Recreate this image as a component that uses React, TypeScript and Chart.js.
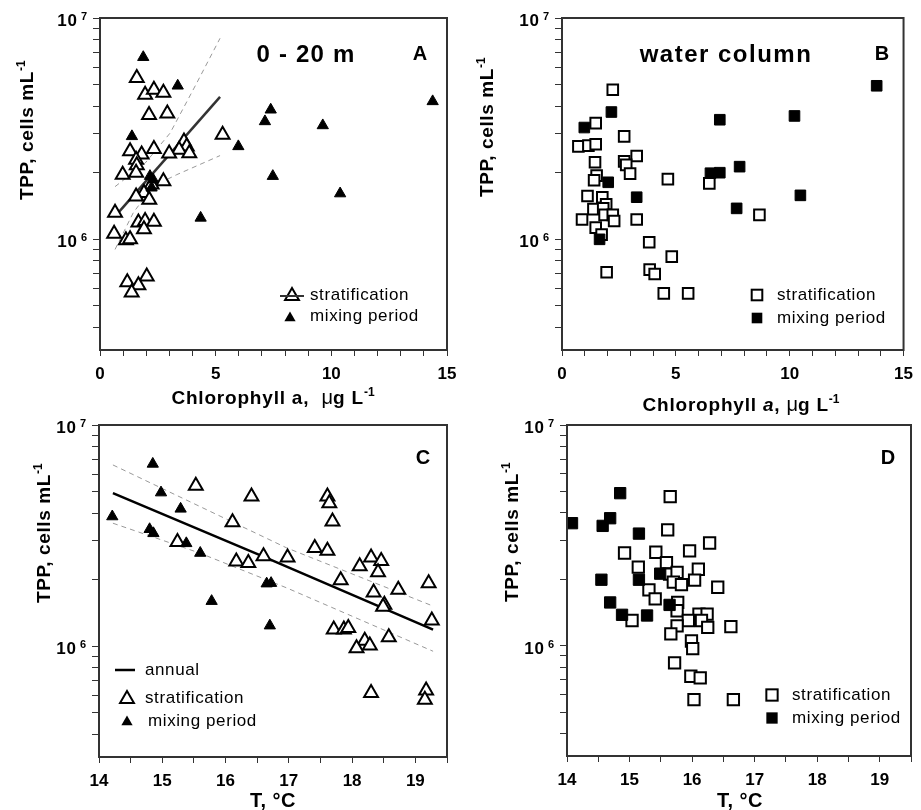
import React, { useEffect, useRef } from "react";
import { Chart, registerables } from "chart.js";
Chart.register(...registerables);

const FONT = '"Liberation Sans", Arial, Helvetica, sans-serif';
const W = 921;
const H = 810;

// ---------- Panel A: 0-20 m, TPP vs Chlorophyll a ----------
const aStratChl = [1.59, 1.95, 2.33, 2.74, 2.12, 2.91, 5.3, 3.63, 3.75, 3.42, 3.86, 2.99, 2.33, 1.3, 1.8, 1.56, 1.59, 0.98, 1.56, 2.74, 2.23, 1.9, 1.56, 2.13, 0.65, 1.66, 1.95, 2.33, 1.9, 0.61, 1.12, 1.3, 2.02, 1.18, 1.66, 1.37];
const aStratTpp = [5.35e6, 4.5e6, 4.74e6, 4.6e6, 3.65e6, 3.7e6, 2.97e6, 2.77e6, 2.63e6, 2.54e6, 2.45e6, 2.44e6, 2.56e6, 2.5e6, 2.42e6, 2.29e6, 2.16e6, 1.96e6, 2.0e6, 1.83e6, 1.77e6, 1.62e6, 1.56e6, 1.51e6, 1.32e6, 1.19e6, 1.21e6, 1.2e6, 1.11e6, 1.06e6, 0.99e6, 1.0e6, 6.8e5, 6.4e5, 6.2e5, 5.75e5];
const aMixChl = [1.87, 3.36, 1.38, 14.38, 7.38, 7.13, 9.63, 5.98, 7.47, 10.38, 4.35, 2.3, 2.23, 2.16];
const aMixTpp = [6.65e6, 4.94e6, 2.92e6, 4.2e6, 3.85e6, 3.41e6, 3.27e6, 2.63e6, 1.93e6, 1.61e6, 1.25e6, 1.86e6, 1.71e6, 1.93e6];
const aFitChl = [0.65, 5.19];
const aFitTpp = [1.27e6, 4.4e6];
const aUpperChl = [0.65, 1.95, 3.03, 4.18, 5.19];
const aUpperTpp = [1.73e6, 2.21e6, 3.02e6, 5.08e6, 8.1e6];
const aLowerChl = [0.65, 1.44, 2.3, 3.32, 5.19];
const aLowerTpp = [9.0e5, 1.32e6, 1.74e6, 1.96e6, 2.39e6];

// ---------- Panel B: water column, TPP vs Chlorophyll a ----------
const bStratChl = [2.23, 1.48, 2.73, 0.72, 1.16, 1.48, 3.28, 2.73, 2.82, 1.45, 2.99, 1.52, 1.41, 4.65, 6.47, 1.12, 1.77, 1.94, 1.38, 1.81, 1.87, 2.23, 0.88, 2.29, 3.28, 8.67, 1.48, 1.74, 3.83, 4.82, 1.96, 3.85, 4.07, 4.47, 5.54];
const bStratTpp = [4.74e6, 3.35e6, 2.92e6, 2.63e6, 2.65e6, 2.69e6, 2.38e6, 2.25e6, 2.17e6, 2.23e6, 1.98e6, 1.94e6, 1.85e6, 1.87e6, 1.79e6, 1.57e6, 1.55e6, 1.44e6, 1.37e6, 1.38e6, 1.29e6, 1.29e6, 1.23e6, 1.21e6, 1.23e6, 1.29e6, 1.13e6, 1.05e6, 9.7e5, 8.35e5, 7.1e5, 7.3e5, 6.97e5, 5.7e5, 5.7e5];
const bMixChl = [13.82, 2.17, 0.98, 6.93, 10.21, 7.8, 6.52, 6.93, 10.47, 7.67, 2.03, 3.28, 1.65];
const bMixTpp = [4.94e6, 3.76e6, 3.2e6, 3.47e6, 3.61e6, 2.13e6, 1.99e6, 2.0e6, 1.58e6, 1.38e6, 1.81e6, 1.55e6, 1.0e6];

// ---------- Panel C: 0-20 m, TPP vs temperature ----------
const cStratT = [15.53, 16.41, 17.61, 17.64, 16.11, 17.69, 15.24, 17.41, 17.61, 16.6, 16.98, 16.17, 16.36, 18.3, 18.46, 18.12, 18.41, 17.82, 19.21, 18.73, 18.34, 18.51, 18.49, 19.26, 17.71, 17.87, 17.94, 18.58, 18.2, 18.28, 18.07, 18.3, 19.17, 19.15];
const cStratTpp = [5.31e6, 4.75e6, 4.75e6, 4.43e6, 3.64e6, 3.66e6, 2.96e6, 2.78e6, 2.7e6, 2.55e6, 2.52e6, 2.42e6, 2.38e6, 2.52e6, 2.43e6, 2.3e6, 2.16e6, 1.99e6, 1.93e6, 1.8e6, 1.75e6, 1.54e6, 1.51e6, 1.31e6, 1.19e6, 1.19e6, 1.21e6, 1.1e6, 1.06e6, 1.01e6, 9.8e5, 6.15e5, 6.32e5, 5.74e5];
const cMixT = [14.85, 14.98, 15.29, 14.21, 14.8, 14.86, 15.38, 15.6, 16.65, 16.72, 15.78, 16.7];
const cMixTpp = [6.67e6, 4.95e6, 4.18e6, 3.86e6, 3.38e6, 3.24e6, 2.92e6, 2.64e6, 1.92e6, 1.93e6, 1.6e6, 1.24e6];
const cFitT = [14.22, 16.59, 19.28];
const cFitTpp = [4.92e6, 2.55e6, 1.19e6];
const cUpperT = [14.22, 15.59, 16.96, 19.28];
const cUpperTpp = [6.6e6, 4.29e6, 2.79e6, 1.52e6];
const cLowerT = [14.22, 15.59, 16.96, 19.28];
const cLowerTpp = [3.6e6, 2.64e6, 1.84e6, 9.5e5];

// ---------- Panel D: water column, TPP vs temperature ----------
const dStratT = [15.65, 15.61, 16.28, 14.92, 15.42, 15.96, 15.14, 15.59, 16.1, 15.64, 15.76, 16.04, 15.7, 15.83, 16.41, 15.31, 15.41, 15.77, 15.76, 16.11, 16.24, 15.04, 15.94, 16.15, 15.76, 16.25, 16.62, 15.66, 15.99, 16.01, 15.72, 15.98, 16.13, 16.03, 16.66];
const dStratTpp = [4.74e6, 3.35e6, 2.92e6, 2.63e6, 2.65e6, 2.69e6, 2.27e6, 2.38e6, 2.22e6, 2.11e6, 2.15e6, 1.98e6, 1.94e6, 1.89e6, 1.84e6, 1.79e6, 1.63e6, 1.57e6, 1.44e6, 1.39e6, 1.39e6, 1.3e6, 1.3e6, 1.3e6, 1.23e6, 1.21e6, 1.22e6, 1.13e6, 1.05e6, 9.7e5, 8.35e5, 7.27e5, 7.14e5, 5.7e5, 5.7e5];
const dMixT = [14.85, 14.08, 14.57, 14.69, 15.15, 15.49, 14.55, 15.15, 14.69, 15.64, 14.88, 15.28];
const dMixTpp = [4.91e6, 3.59e6, 3.49e6, 3.78e6, 3.22e6, 2.12e6, 1.99e6, 1.99e6, 1.57e6, 1.53e6, 1.38e6, 1.37e6];

// ---------- Axes ----------
const yTickValues = [4e5, 5e5, 6e5, 7e5, 8e5, 9e5, 1e6, 2e6, 3e6, 4e6, 5e6, 6e6, 7e6, 8e6, 9e6, 1e7];
const yLabelValues = [1e6, 1e7];
const yLabelExponents = ["6", "7"];
const yMin = 316228; // 10^5.5
const yMax = 1e7;

const bold = (s: number) => `bold ${s}px ${FONT}`;
const reg = (s: number) => `${s}px ${FONT}`;

type Part = { t: string; font: string; dy?: number; ls?: string };

function pts(xs: number[], ys: number[]) {
  return xs.map((x, i) => ({ x, y: ys[i] }));
}

function drawRich(ctx: CanvasRenderingContext2D, x: number, y: number, parts: Part[], align: "left" | "center" | "right") {
  ctx.textAlign = "left";
  ctx.textBaseline = "alphabetic";
  let total = 0;
  const widths = parts.map((p) => {
    ctx.font = p.font;
    (ctx as any).letterSpacing = p.ls ?? "0px";
    const w = ctx.measureText(p.t).width;
    total += w;
    return w;
  });
  let cx = align === "center" ? x - total / 2 : align === "right" ? x - total : x;
  parts.forEach((p, i) => {
    ctx.font = p.font;
    (ctx as any).letterSpacing = p.ls ?? "0px";
    ctx.fillText(p.t, cx, y + (p.dy ?? 0));
    cx += widths[i];
  });
  (ctx as any).letterSpacing = "0px";
}

function yTitle(ctx: CanvasRenderingContext2D, bx: number, by: number) {
  ctx.save();
  ctx.translate(bx, by);
  ctx.rotate(-Math.PI / 2);
  drawRich(ctx, 0, 0, [
    { t: "TPP, cells mL", font: bold(19), ls: "0.6px" },
    { t: "-1", font: bold(12), dy: -8 },
  ], "left");
  ctx.restore();
}

function triangle(ctx: CanvasRenderingContext2D, x: number, y: number, r: number, filled: boolean) {
  ctx.beginPath();
  let rad = 0;
  ctx.moveTo(x + Math.sin(rad) * r, y - Math.cos(rad) * r);
  rad += (2 * Math.PI) / 3;
  ctx.lineTo(x + Math.sin(rad) * r, y - Math.cos(rad) * r);
  rad += (2 * Math.PI) / 3;
  ctx.lineTo(x + Math.sin(rad) * r, y - Math.cos(rad) * r);
  ctx.closePath();
  if (filled) {
    ctx.fillStyle = "#000";
    ctx.fill();
  } else {
    ctx.fillStyle = "#fff";
    ctx.fill();
    ctx.lineWidth = 2;
    ctx.strokeStyle = "#000";
    ctx.stroke();
  }
}

function square(ctx: CanvasRenderingContext2D, x: number, y: number, r: number, filled: boolean) {
  const s = r * Math.SQRT1_2;
  if (filled) {
    ctx.fillStyle = "#000";
    ctx.fillRect(x - s, y - s, 2 * s, 2 * s);
  } else {
    ctx.lineWidth = 2;
    ctx.strokeStyle = "#000";
    ctx.strokeRect(x - s, y - s, 2 * s, 2 * s);
  }
}

function legendText(ctx: CanvasRenderingContext2D, t: string, x: number, y: number) {
  ctx.fillStyle = "#000";
  ctx.font = reg(17);
  (ctx as any).letterSpacing = "0.6px";
  ctx.textAlign = "left";
  ctx.textBaseline = "middle";
  ctx.fillText(t, x, y);
  (ctx as any).letterSpacing = "0px";
}

// ---------- dataset helpers ----------
const openMarker = (data: any[], style: string, r: number) => ({
  data, pointStyle: style, pointRadius: r, pointHoverRadius: r, pointBorderWidth: 2,
  pointBorderColor: "#000", pointBackgroundColor: "#fff", showLine: false,
});
const filledMarker = (data: any[], style: string, r: number) => ({
  data, pointStyle: style, pointRadius: r, pointHoverRadius: r, pointBorderWidth: 1,
  pointBorderColor: "#000", pointBackgroundColor: "#000", showLine: false,
});
const lineSet = (data: any[], color: string, width: number, dash: number[]) => ({
  data, showLine: true, pointRadius: 0, pointHoverRadius: 0, borderColor: color,
  borderWidth: width, borderDash: dash, fill: false, tension: 0,
});

interface PanelSpec {
  id: string;
  padding: { left: number; right: number; top: number; bottom: number };
  xMin: number;
  xMax: number;
  xStep: number;
  xLabel: (v: number) => string;
  datasets: any[];
  decorate: (ctx: CanvasRenderingContext2D) => void;
}

const chlLabel = (v: number) => (Math.abs(v % 5) < 1e-9 ? String(v) : "");
const tLabel = (v: number) => (Number.isInteger(v) ? String(v) : "");

const chlTitle = (italic: boolean): Part[] =>
  italic
    ? [
        { t: "Chlorophyll ", font: bold(19), ls: "0.8px" },
        { t: "a", font: `italic bold 19px ${FONT}`, ls: "0.8px" },
        { t: ", ", font: bold(19), ls: "0.8px" },
        { t: "\u03bc", font: reg(20) },
        { t: "g L", font: bold(19), ls: "0.8px" },
        { t: "-1", font: bold(12), dy: -8 },
      ]
    : [
        { t: "Chlorophyll a,  ", font: bold(19), ls: "0.8px" },
        { t: "\u03bc", font: reg(20) },
        { t: "g L", font: bold(19), ls: "0.8px" },
        { t: "-1", font: bold(12), dy: -8 },
      ];

const TRI_OPEN = 8;
const TRI_FILL = 6.5;

const specs: PanelSpec[] = [
  {
    id: "A",
    padding: { left: 55, right: W - 447, top: 18, bottom: H - 350 - 40 },
    xMin: 0, xMax: 15, xStep: 1, xLabel: chlLabel,
    datasets: [
      filledMarker(pts(aMixChl, aMixTpp), "triangle", TRI_FILL),
      openMarker(pts(aStratChl, aStratTpp), "triangle", TRI_OPEN),
      lineSet(pts(aFitChl, aFitTpp), "#333", 2.5, []),
      lineSet(pts(aUpperChl, aUpperTpp), "#999", 1, [5, 4]),
      lineSet(pts(aLowerChl, aLowerTpp), "#999", 1, [5, 4]),
    ],
    decorate: (ctx) => {
      ctx.fillStyle = "#000";
      yTitle(ctx, 33, 200);
      drawRich(ctx, 273, 404, chlTitle(false), "center");
      drawRich(ctx, 306, 62, [{ t: "0 - 20 m", font: bold(24), ls: "1.2px" }], "center");
      drawRich(ctx, 420, 60, [{ t: "A", font: bold(20) }], "center");
      triangle(ctx, 292, 296, TRI_OPEN, false);
      ctx.strokeStyle = "#333";
      ctx.lineWidth = 2;
      ctx.beginPath();
      ctx.moveTo(280, 296);
      ctx.lineTo(304, 296);
      ctx.stroke();
      legendText(ctx, "stratification", 310, 295);
      triangle(ctx, 290, 318, TRI_FILL, true);
      legendText(ctx, "mixing period", 310, 316);
    },
  },
  {
    id: "B",
    padding: { left: 517, right: W - 910, top: 18, bottom: H - 350 - 40 },
    xMin: 0, xMax: 15, xStep: 1, xLabel: chlLabel,
    datasets: [
      filledMarker(pts(bMixChl, bMixTpp), "rect", 7.5),
      openMarker(pts(bStratChl, bStratTpp), "rect", 7.5),
    ],
    decorate: (ctx) => {
      ctx.fillStyle = "#000";
      yTitle(ctx, 493, 197);
      drawRich(ctx, 741, 411, chlTitle(true), "center");
      drawRich(ctx, 726, 62, [{ t: "water column", font: bold(24), ls: "1.5px" }], "center");
      drawRich(ctx, 882, 60, [{ t: "B", font: bold(20) }], "center");
      square(ctx, 757, 295, 7.5, false);
      legendText(ctx, "stratification", 777, 295);
      square(ctx, 757, 318, 7.5, true);
      legendText(ctx, "mixing period", 777, 318);
    },
  },
  {
    id: "C",
    padding: { left: 54, right: W - 447, top: 425, bottom: H - 757 - 40 },
    xMin: 14, xMax: 19.5, xStep: 0.5, xLabel: tLabel,
    datasets: [
      filledMarker(pts(cMixT, cMixTpp), "triangle", TRI_FILL),
      openMarker(pts(cStratT, cStratTpp), "triangle", TRI_OPEN),
      lineSet(pts(cFitT, cFitTpp), "#000", 2.5, []),
      lineSet(pts(cUpperT, cUpperTpp), "#999", 1, [5, 4]),
      lineSet(pts(cLowerT, cLowerTpp), "#999", 1, [5, 4]),
    ],
    decorate: (ctx) => {
      ctx.fillStyle = "#000";
      yTitle(ctx, 50, 603);
      drawRich(ctx, 273, 807, [{ t: "T, \u00b0C", font: bold(20), ls: "0.5px" }], "center");
      drawRich(ctx, 423, 464, [{ t: "C", font: bold(20) }], "center");
      ctx.strokeStyle = "#000";
      ctx.lineWidth = 2.5;
      ctx.beginPath();
      ctx.moveTo(115, 670);
      ctx.lineTo(135, 670);
      ctx.stroke();
      legendText(ctx, "annual", 145, 670);
      triangle(ctx, 127, 699, TRI_OPEN, false);
      legendText(ctx, "stratification", 145, 698);
      triangle(ctx, 127, 722, TRI_FILL, true);
      legendText(ctx, "mixing period", 148, 721);
    },
  },
  {
    id: "D",
    padding: { left: 522, right: W - 914, top: 425, bottom: H - 756 - 40 },
    xMin: 14, xMax: 19.5, xStep: 0.5, xLabel: tLabel,
    datasets: [
      filledMarker(pts(dMixT, dMixTpp), "rect", 8),
      openMarker(pts(dStratT, dStratTpp), "rect", 8),
    ],
    decorate: (ctx) => {
      ctx.fillStyle = "#000";
      yTitle(ctx, 518, 602);
      drawRich(ctx, 740, 807, [{ t: "T, \u00b0C", font: bold(20), ls: "0.5px" }], "center");
      drawRich(ctx, 888, 464, [{ t: "D", font: bold(20) }], "center");
      square(ctx, 772, 695, 8, false);
      legendText(ctx, "stratification", 792, 695);
      square(ctx, 772, 718, 8, true);
      legendText(ctx, "mixing period", 792, 718);
    },
  },
];

function buildConfig(spec: PanelSpec): any {
  const gridOpts = { drawOnChartArea: false, drawTicks: true, tickLength: 6, color: "#333", lineWidth: 1 };
  return {
    type: "scatter",
    data: { datasets: spec.datasets },
    options: {
      responsive: false,
      animation: false,
      devicePixelRatio: 1,
      events: [],
      layout: { padding: spec.padding },
      plugins: { legend: { display: false }, tooltip: { enabled: false } },
      scales: {
        x: {
          type: "linear",
          position: "bottom",
          min: spec.xMin,
          max: spec.xMax,
          ticks: {
            stepSize: spec.xStep,
            autoSkip: false,
            maxRotation: 0,
            callback: (v: any) => spec.xLabel(Number(v)),
            font: { family: FONT, size: 17, weight: "bold" },
            color: "#000",
            padding: 8,
          },
          grid: gridOpts,
          border: { display: false },
          afterFit: (s: any) => { s.height = 40; },
        },
        y: {
          type: "logarithmic",
          position: "left",
          min: yMin,
          max: yMax,
          afterBuildTicks: (s: any) => { s.ticks = yTickValues.map((v) => ({ value: v })); },
          ticks: {
            autoSkip: false,
            callback: () => "",
            font: { family: FONT, size: 16, weight: "bold" },
            color: "#000",
            padding: 6,
          },
          grid: { ...gridOpts, tickLength: 7 },
          border: { display: false },
          afterFit: (s: any) => { s.width = 45; },
        },
      },
    },
    plugins: [
      {
        id: "deco" + spec.id,
        afterDraw: (chart: any) => {
          const ctx: CanvasRenderingContext2D = chart.ctx;
          const { left, top, right, bottom } = chart.chartArea;
          ctx.save();
          ctx.strokeStyle = "#333";
          ctx.lineWidth = 2;
          ctx.strokeRect(left, top, right - left, bottom - top);
          // y tick labels 10^6, 10^7 with superscript exponent
          ctx.fillStyle = "#000";
          const ys = chart.scales.y;
          yLabelValues.forEach((v, i) => {
            const py = ys.getPixelForValue(v);
            drawRich(ctx, left - 13, py + 8, [
              { t: "10", font: bold(17), ls: "0.8px" },
              { t: " " + yLabelExponents[i], font: bold(11), dy: -6 },
            ], "right");
          });
          spec.decorate(ctx);
          ctx.restore();
        },
      },
    ],
  };
}

function Panel({ spec }: { spec: PanelSpec }) {
  const ref = useRef<HTMLCanvasElement>(null);
  useEffect(() => {
    const chart = new Chart(ref.current as HTMLCanvasElement, buildConfig(spec));
    return () => chart.destroy();
  }, [spec]);
  return <canvas ref={ref} width={W} height={H} style={{ position: "absolute", left: 0, top: 0 }} />;
}

export default function App() {
  return (
    <div style={{ position: "absolute", left: 0, top: 0, width: W, height: H, background: "#fff", overflow: "hidden" }}>
      {specs.map((s) => (
        <Panel key={s.id} spec={s} />
      ))}
    </div>
  );
}
